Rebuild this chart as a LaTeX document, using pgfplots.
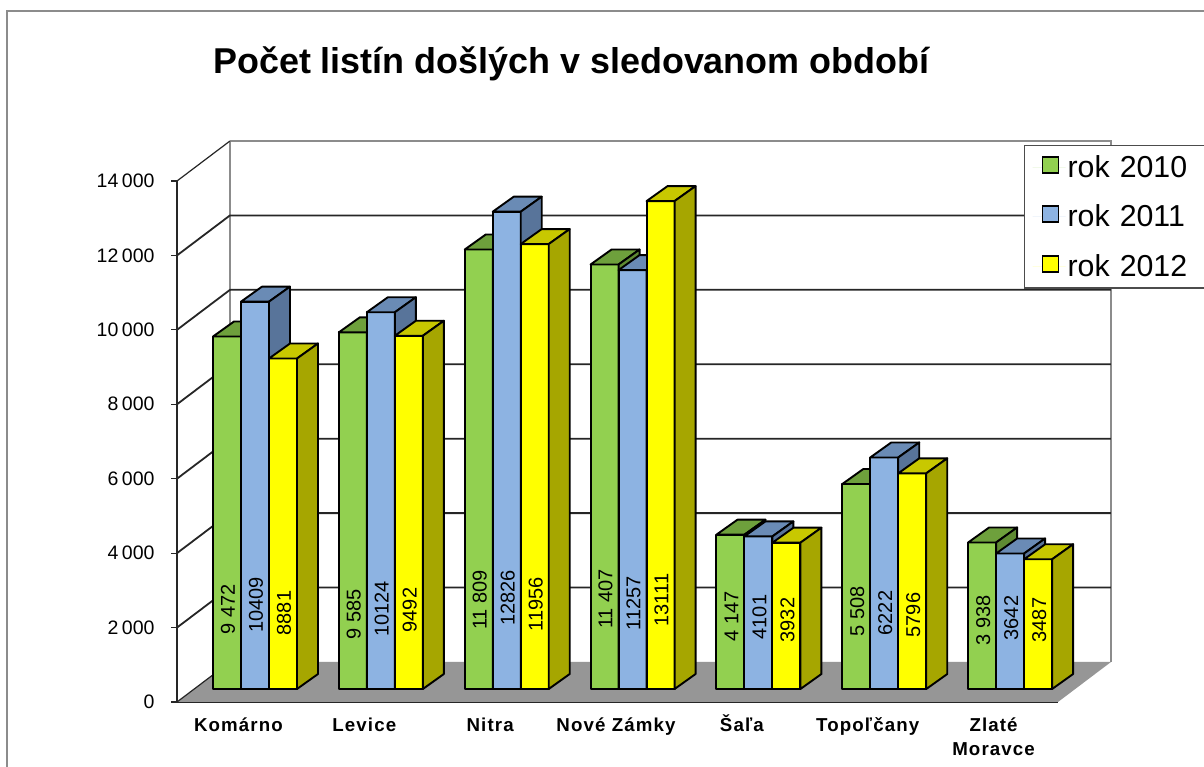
\documentclass[border=0pt]{standalone}
\usepackage{pgfplots}
\pgfplotsset{compat=1.18}
\usepackage{fontspec}
\setmainfont{Liberation Sans}
\definecolor{gF}{HTML}{92D050}\definecolor{gT}{HTML}{6EA03C}\definecolor{gS}{HTML}{5E8A32}
\definecolor{bF}{HTML}{8DB3E2}\definecolor{bT}{HTML}{6A8BB5}\definecolor{bS}{HTML}{58749A}
\definecolor{yF}{HTML}{FFFF00}\definecolor{yT}{HTML}{C8C800}\definecolor{yS}{HTML}{A6A600}
\definecolor{wall}{HTML}{8C8C8C}\definecolor{floorc}{HTML}{969696}
% 1 px = 1 pt; category width 125.86 px; 1 px = 26.87 value units
\newcommand\tbar[6]{% category, series, value, colour prefix, label, label centre (px from top)
  \pgfmathsetmacro\xa{#1+(36+28*#2)/125.86}%
  \pgfmathsetmacro\xb{\xa+28/125.86}%
  \pgfmathsetmacro\xc{\xa+21/125.86}%
  \pgfmathsetmacro\xd{\xb+21/125.86}%
  \pgfmathsetmacro\ya{349}%
  \pgfmathsetmacro\yb{#3+349}%
  \pgfmathsetmacro\yc{#3+349+403}%
  \pgfmathsetmacro\yd{349+403}%
  \pgfmathsetmacro\xm{(\xa+\xb)/2+1/125.86}%
  \pgfmathsetmacro\ym{(702-#6)*26.87}%
  \edef\tmp{%
    \noexpand\addplot[draw=black,line width=1.9pt,line join=round,fill=#4F] coordinates {(\xa,\ya)(\xb,\ya)(\xb,\yb)(\xa,\yb)} --cycle;
    \noexpand\addplot[draw=black,line width=1.9pt,line join=round,fill=#4T] coordinates {(\xa,\yb)(\xb,\yb)(\xd,\yc)(\xc,\yc)} --cycle;
    \noexpand\addplot[draw=black,line width=1.9pt,line join=round,fill=#4S] coordinates {(\xb,\ya)(\xd,\yd)(\xd,\yc)(\xb,\yb)} --cycle;
    \noexpand\node[rotate=90,font=\noexpand\fontsize{20}{22}\noexpand\selectfont,inner sep=0pt] at (axis cs:\xm,\ym) {#5};
  }\tmp
}
\newcommand\gline[1]{%
  \pgfmathsetmacro\yb{#1+1075}%
  \edef\tmp{\noexpand\addplot[draw=black!85,line width=1.8pt] coordinates {(0,#1)(0.421,\yb)(7.421,\yb)};}\tmp
}
\begin{document}
\begin{tikzpicture}[x=1pt,y=1pt]
\useasboundingbox (0,0) rectangle (1204,767);
\fill[white] (0,0) rectangle (1204,767);
\draw[wall,line width=2.5pt] (7,0) -- (7,756) -- (1204,756);
\node[anchor=base west,inner sep=0pt,font=\bfseries\fontsize{35.9}{40}\selectfont] at (213,693) {Počet listín došlých v sledovanom období};
\begin{axis}[
  at={(177pt,65pt)},anchor=origin,
  scale only axis,width=881pt,height=521pt,
  xmin=0,xmax=7,ymin=0,ymax=14000,clip=false,
  axis x line*=bottom,axis y line*=left,
  axis line style={draw=black!85,line width=1.8pt,-},
  xtick={0.5,1.5,2.5,3.5,4.5,5.5,6.5},
  xticklabels={\strut Komárno,\strut Levice,\strut Nitra,\strut Nové Zámky,\strut Šaľa,\strut Topoľčany,{\strut Zlaté\\\strut Moravce}},
  major x tick style={draw=none},
  extra x ticks={0,1,2,3,4,5,6,7},
  extra x tick labels={},
  extra x tick style={major tick length=6pt,tick style={draw=black!85,line width=1pt},tickwidth=6pt},
  x tick label style={font=\bfseries\addfontfeature{LetterSpace=6}\fontsize{18.7}{24}\selectfont,align=center,anchor=north,yshift=-3.5pt,xshift=-1.5pt},
  ytick={0,2000,...,14000},
  y tick label style={font=\fontsize{19.5}{21}\selectfont},
  /pgf/number format/assume math mode=true,
  /pgf/number format/1000 sep={\hspace{.18em}},
  scaled y ticks=false,
  tick align=outside,
  ytick style={draw=black!85,line width=1.2pt},
  major tick length=6pt,
  yticklabel style={xshift=-13pt},
  legend style={at={(axis description cs:0.9614,1.0691)},anchor=north west,draw=black!70,line width=1.2pt,fill=white,
    font=\fontsize{30.3}{34}\selectfont,row sep=22pt,inner xsep=8pt,inner ysep=8pt,
    legend cell align=left,text width=160pt},
  legend image code/.code={\path[draw=none] (0pt,0pt) -- (33pt,0pt);\draw[#1,draw=black,line width=1.8pt] (10pt,-5.5pt) rectangle (26pt,10.5pt);},
]
% floor
\addplot[draw=none,fill=floorc,forget plot] coordinates {(0,0)(7,0)(7.421,1075)(0.421,1075)} --cycle;
% walls and gridlines on the walls
\addplot[draw=wall,line width=2.5pt,forget plot] coordinates {(0.421,1075)(0.421,15075)};
\addplot[draw=wall,line width=2.5pt,forget plot] coordinates {(7.421,1075)(7.421,15075)(0.421,15075)};
\addplot[draw=black!85,line width=1.2pt,forget plot] coordinates {(0,14000)(0.421,15075)};
\addplot[draw=black!85,line width=1.2pt,forget plot] coordinates {(0,0)(0.421,1075)};
\pgfplotsset{every axis plot/.append style={forget plot}}
\gline{2000}\gline{4000}\gline{6000}\gline{8000}\gline{10000}\gline{12000}
\tbar{0}{0}{9472}{g}{9 472}{609}
\tbar{0}{1}{10409}{b}{10409}{605}
\tbar{0}{2}{8881}{y}{8881}{613}
\tbar{1}{0}{9585}{g}{9 585}{614}
\tbar{1}{1}{10124}{b}{10124}{609}
\tbar{1}{2}{9492}{y}{9492}{610}
\tbar{2}{0}{11809}{g}{11 809}{600}
\tbar{2}{1}{12826}{b}{12826}{598}
\tbar{2}{2}{11956}{y}{11956}{604}
\tbar{3}{0}{11407}{g}{11 407}{599}
\tbar{3}{1}{11257}{b}{11257}{603}
\tbar{3}{2}{13111}{y}{13111}{600}
\tbar{4}{0}{4147}{g}{4 147}{616}
\tbar{4}{1}{4101}{b}{4101}{617}
\tbar{4}{2}{3932}{y}{3932}{620}
\tbar{5}{0}{5508}{g}{5 508}{611}
\tbar{5}{1}{6222}{b}{6222}{613}
\tbar{5}{2}{5796}{y}{5796}{615}
\tbar{6}{0}{3938}{g}{3 938}{620}
\tbar{6}{1}{3642}{b}{3642}{618}
\tbar{6}{2}{3487}{y}{3487}{620}
\addlegendimage{fill=gF}\addlegendentry{rok 2010}
\addlegendimage{fill=bF}\addlegendentry{rok 2011}
\addlegendimage{fill=yF}\addlegendentry{rok 2012}
\end{axis}
\end{tikzpicture}
\end{document}
